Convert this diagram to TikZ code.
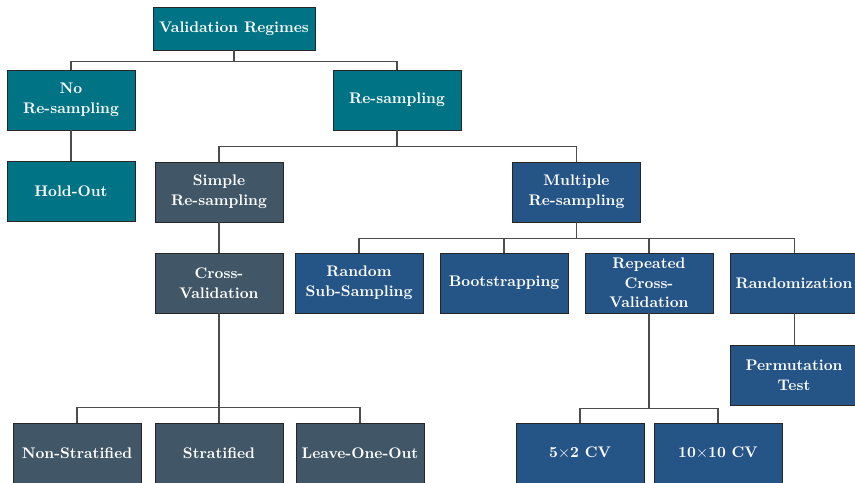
\documentclass[tikz,border=0pt]{standalone}
\usepackage{tikz}
\usetikzlibrary{calc}
\definecolor{tealbox}{RGB}{0,116,132}
\definecolor{slatebox}{RGB}{65,87,104}
\definecolor{bluebox}{RGB}{37,84,134}
\begin{document}
\begin{tikzpicture}[x=0.69pt,y=-0.69pt,
    box/.style={draw=black!85,line width=0.6pt,text=white,font=\fontsize{10.6}{13.6}\selectfont\bfseries,align=center,minimum width=88.3pt,minimum height=41.4pt,inner sep=1pt},
    tbox/.style={box,fill=tealbox},
    sbox/.style={box,fill=slatebox},
    bbox/.style={box,fill=bluebox},
    link/.style={draw=black!70,line width=0.7pt}]
    \useasboundingbox (0,0) rectangle (855,482);
    \node[tbox,minimum width=111.8pt,minimum height=29.7pt] (vr) at (234,28.5) {Validation Regimes};
    \node[tbox] (nr) at (71,100) {No\\Re-sampling};
    \node[tbox] (rs) at (397,100) {Re-sampling};
    \node[tbox] (ho) at (71,191.5) {Hold-Out};
    \node[sbox] (sr) at (219,192) {Simple\\Re-sampling};
    \node[bbox] (mr) at (576.5,192) {Multiple\\Re-sampling};
    \node[sbox] (cv) at (219,283) {Cross-\\Validation};
    \node[bbox] (rss) at (359,283) {Random\\Sub-Sampling};
    \node[bbox] (bs) at (504,283) {Bootstrapping};
    \node[bbox] (rcv) at (649,283) {Repeated\\Cross-\\Validation};
    \node[bbox] (rnd) at (794,283) {Randomization};
    \node[bbox] (pt) at (794,375) {Permutation\\Test};
    \node[sbox] (ns) at (77,453) {Non-Stratified};
    \node[sbox] (st) at (219,453) {Stratified};
    \node[sbox] (loo) at (360,453) {Leave-One-Out};
    \node[bbox] (cvf) at (580,453) {5$\times$2 CV};
    \node[bbox] (cvt) at (718,453) {10$\times$10 CV};
    \foreach \c in {nr,rs} \draw[link] (vr.south) -- ++(0,11) -| (\c.north);
    \foreach \c in {sr,mr} \draw[link] (rs.south) -- ++(0,16) -| (\c.north);
    \foreach \c in {rss,bs,rcv,rnd} \draw[link] (mr.south) -- ++(0,16) -| (\c.north);
    \foreach \c in {ns,st,loo} \draw[link] (cv.south) -- ++(0,94) -| (\c.north);
    \foreach \c in {cvf,cvt} \draw[link] (rcv.south) -- ++(0,95) -| (\c.north);
    \draw[link] (nr) -- (ho);
    \draw[link] (sr) -- (cv);
    \draw[link] (rnd) -- (pt);
\end{tikzpicture}
\end{document}
